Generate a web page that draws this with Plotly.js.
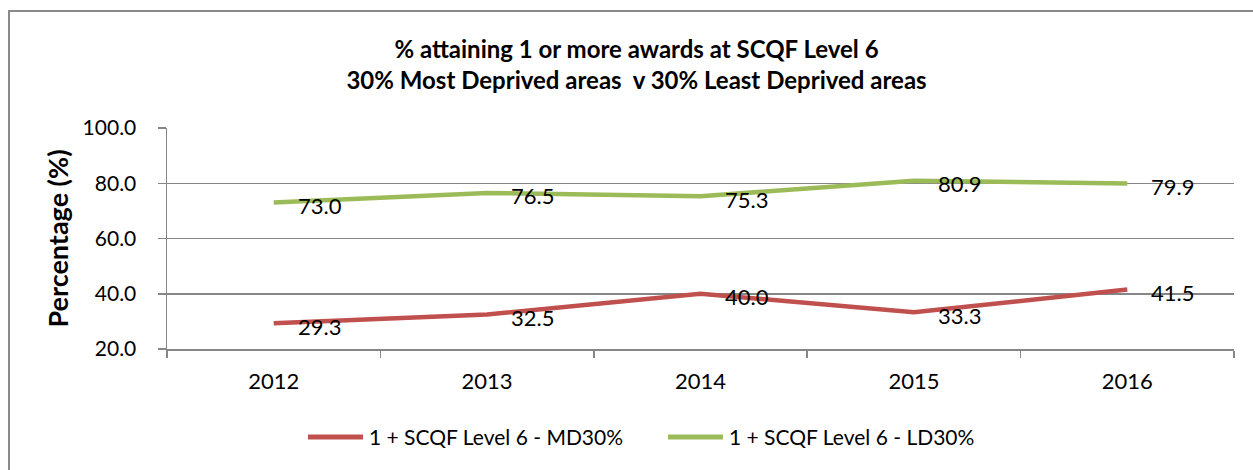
<!DOCTYPE html>
<html>
<head>
<meta charset="utf-8">
<script src="https://cdn.plot.ly/plotly-3.0.1.min.js"></script>
<style>
  body { margin: 0; background: #fff; }
  #frame { position: absolute; left: 8px; top: 10px; width: 1300px; height: 500px;
           border: 2px solid #8a8a8a; pointer-events: none; }
  #chart { position: absolute; left: 0; top: 0; width: 1253px; height: 470px; }
</style>
</head>
<body>
<div id="chart"></div>
<div id="frame"></div>
<script>
// years and series values
var years = ["2012", "2013", "2014", "2015", "2016"];
var md30 = [29.3, 32.5, 40.0, 33.3, 41.5];
var ld30 = [73.0, 76.5, 75.3, 80.9, 79.9];
var yTicks = [20, 40, 60, 80, 100];
var seriesNames = ["1 + SCQF Level 6 - MD30%", "1 + SCQF Level 6 - LD30%"];
var seriesColors = ["#C0504D", "#9BBB59"];

var fontFam = "Lato, 'Open Sans', sans-serif";

var traces = [md30, ld30].map(function (vals, k) {
  return {
    x: years, y: vals, type: "scatter", mode: "lines",
    name: seriesNames[k],
    line: {color: seriesColors[k], width: 4.5}
  };
});

// data labels to the right of each point (x given as category index)
var annots = [];
[md30, ld30].forEach(function (vals) {
  vals.forEach(function (v, i) {
    annots.push({
      x: i, y: v, xref: "x", yref: "y",
      text: v.toFixed(1), showarrow: false,
      xanchor: "left", yanchor: "middle", xshift: 22, yshift: -3,
      font: {family: fontFam, size: 22, color: "#000"}
    });
  });
});

// legend drawn by hand below the plot, Excel style (long line swatches)
var legendStarts = [0.1321, 0.4695];
var legendY = -0.398;
var shapes = [];
seriesNames.forEach(function (nm, k) {
  var x0 = legendStarts[k];
  shapes.push({
    type: "line", xref: "paper", yref: "paper",
    x0: x0, x1: x0 + 0.0516, y0: legendY, y1: legendY,
    line: {color: seriesColors[k], width: 5}
  });
  annots.push({
    x: x0 + 0.0553, y: legendY, xref: "paper", yref: "paper",
    text: nm, showarrow: false, xanchor: "left", yanchor: "middle",
    font: {family: fontFam, size: 21, color: "#000"}
  });
});

var layout = {
  width: 1253, height: 470,
  margin: {l: 167, r: 19, t: 128, b: 121},
  paper_bgcolor: "rgba(0,0,0,0)",
  plot_bgcolor: "#fff",
  font: {family: fontFam, color: "#000"},
  title: {
    text: "<b>% attaining 1 or more awards at SCQF Level 6<br>30% Most Deprived areas  v 30% Least Deprived areas</b>",
    font: {family: fontFam, size: 24, color: "#000"},
    x: 0.508, xanchor: "center", y: 0.876, yanchor: "middle"
  },
  xaxis: {
    type: "category", range: [-0.5, 4.5],
    tickson: "boundaries", ticks: "outside", ticklen: 7, tickcolor: "#868686", tickwidth: 1.5,
    showline: true, linecolor: "#868686", linewidth: 1.5,
    showgrid: false, zeroline: false,
    tickfont: {family: fontFam, size: 22},
    ticklabelstandoff: 12
  },
  yaxis: {
    range: [20, 100], tickvals: yTicks, tickformat: ".1f",
    ticks: "outside", ticklen: 8, tickcolor: "#868686", tickwidth: 1.5,
    showline: true, linecolor: "#868686", linewidth: 1.5,
    gridcolor: "#868686", gridwidth: 1.5, zeroline: false,
    tickfont: {family: fontFam, size: 21},
    ticklabelstandoff: 17,
    title: {text: "<b>Percentage (%)</b>", font: {family: fontFam, size: 27}, standoff: 6}
  },
  showlegend: false,
  shapes: shapes,
  annotations: annots
};

Plotly.newPlot("chart", traces, layout, {displayModeBar: false, staticPlot: true});
</script>
</body>
</html>
